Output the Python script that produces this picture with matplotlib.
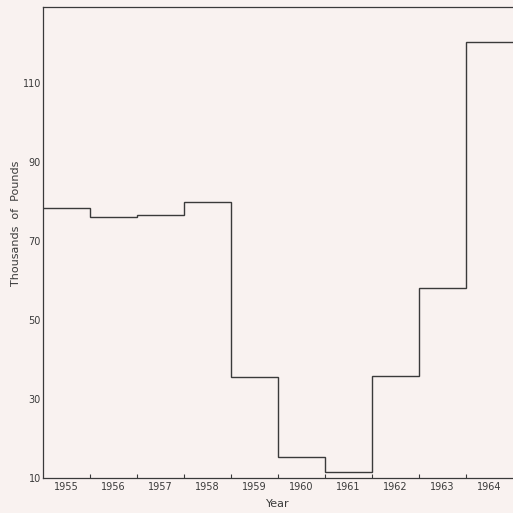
import numpy as np
from matplotlib import pyplot as plt

# catch by year, thousands of pounds
years = [1955, 1956, 1957, 1958, 1959, 1960, 1961, 1962, 1963, 1964]
pounds = [78.3, 76.2, 76.6, 80.0, 35.4, 15.3, 11.3, 35.8, 58.1, 120.5]
y_ticks = [10, 30, 50, 70, 90, 110]

bg = '#f9f2f0'
ink = '#3a3a3a'

fig = plt.figure(figsize=(5.13, 5.13), dpi=100, facecolor=bg)
ax = fig.add_axes([43 / 513, 35.5 / 513, 1 - 43 / 513, 471 / 513])
ax.set_facecolor(bg)

edges = np.array(years + [years[-1] + 1]) - 0.5
ax.stairs(pounds, edges, baseline=None, color=ink, linewidth=1.0)

ax.set_xlim(edges[0], edges[-1])
ax.set_ylim(10, 129.5)

ax.set_yticks(y_ticks)
ax.set_yticklabels([str(v) for v in y_ticks])
ax.set_xticks(years)
ax.set_xticklabels([str(y) for y in years])
ax.set_xticks(edges[1:-1], minor=True)

ax.tick_params(axis='y', length=0, pad=1.5, labelsize=7, labelcolor=ink)
ax.tick_params(axis='x', which='major', length=0, pad=3, labelsize=7, labelcolor=ink)
ax.tick_params(axis='x', which='minor', direction='in', length=3, width=0.8, color=ink)

for side in ['left', 'bottom', 'top']:
    ax.spines[side].set_color(ink)
    ax.spines[side].set_linewidth(0.9)
ax.spines['right'].set_visible(False)

ax.set_xlabel('Year', fontsize=8, color=ink, labelpad=5)
ax.set_ylabel('Thousands  of  Pounds', fontsize=8, color=ink)
ax.yaxis.set_label_coords(-0.047, 0.54)

fig.savefig('out.png', dpi=100, facecolor=bg)
